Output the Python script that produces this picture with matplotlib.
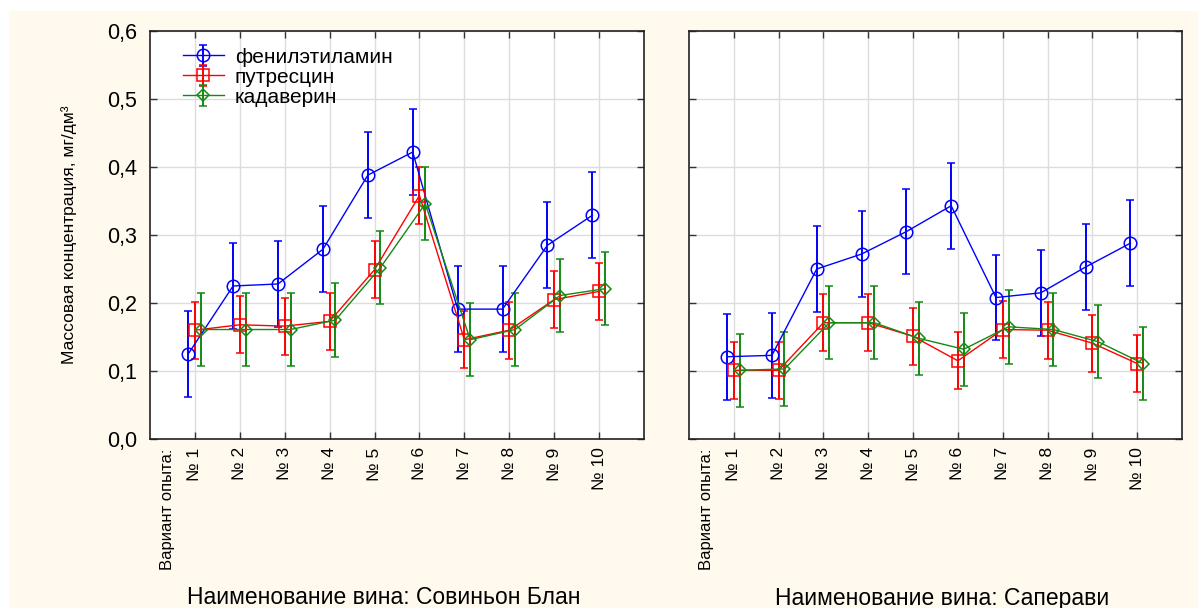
import matplotlib
matplotlib.use("Agg")
import matplotlib.pyplot as plt
from matplotlib.patches import Rectangle
import numpy as np

plt.rcParams['font.family'] = ['Liberation Sans', 'DejaVu Sans']

# данные
categories = ["№ 1", "№ 2", "№ 3", "№ 4", "№ 5", "№ 6", "№ 7", "№ 8", "№ 9", "№ 10"]
series_names = ["фенилэтиламин", "путресцин", "кадаверин"]

# Совиньон Блан
sb_phen = [0.125, 0.225, 0.228, 0.279, 0.388, 0.422, 0.191, 0.191, 0.285, 0.329]
sb_putr = [0.160, 0.168, 0.166, 0.173, 0.249, 0.358, 0.146, 0.160, 0.205, 0.217]
sb_cad = [0.161, 0.161, 0.161, 0.175, 0.252, 0.346, 0.146, 0.161, 0.211, 0.221]

# Саперави
sp_phen = [0.121, 0.123, 0.250, 0.272, 0.305, 0.343, 0.208, 0.215, 0.253, 0.288]
sp_putr = [0.101, 0.101, 0.171, 0.171, 0.151, 0.115, 0.161, 0.160, 0.141, 0.111]
sp_cad = [0.101, 0.103, 0.171, 0.171, 0.148, 0.132, 0.165, 0.161, 0.143, 0.111]

# полуширина доверительных интервалов
err_phen = 0.063
err_putr = 0.042
err_cad = 0.054

wines = ["Наименование вина: Совиньон Блан", "Наименование вина: Саперави"]

colors = ["#0000ff", "#ff0000", "#138a13"]
markers = ["o", "s", "D"]
msizes = [9, 8, 6]
offsets = [-0.15, 0.0, 0.13]

W, H = 1198, 608
fig = plt.figure(figsize=(W / 100, H / 100), dpi=100, facecolor="white")
fig.patches.append(Rectangle((9 / W, 0), 1, 1 - 11 / H, transform=fig.transFigure,
                             facecolor="#fff9ee", edgecolor="none", zorder=-10))

bottom = (H - 439) / H
height = (439 - 31) / H
ax1 = fig.add_axes([150 / W, bottom, (644 - 150) / W, height])
ax2 = fig.add_axes([689 / W, bottom, (1182 - 689) / W, height])

x = np.arange(1, len(categories) + 1)
panels = [(ax1, [sb_phen, sb_putr, sb_cad]), (ax2, [sp_phen, sp_putr, sp_cad])]
errs = [err_phen, err_putr, err_cad]

for ax, data in panels:
    ax.set_facecolor("white")
    for vals, err, c, m, ms, off, name in zip(data, errs, colors, markers, msizes, offsets, series_names):
        ax.errorbar(x + off, vals, yerr=err, color=c, marker=m, markersize=ms,
                    markerfacecolor="none", markeredgecolor=c, markeredgewidth=1.1,
                    linewidth=1.0, elinewidth=1.4, capsize=3, capthick=1.4, label=name)
    ax.set_xlim(0, 11)
    ax.set_ylim(0, 0.6)
    ax.set_xticks(x)
    ax.set_xticklabels(categories, rotation=90, fontsize=12.5, va="top")
    ax.set_yticks(np.arange(0, 0.61, 0.1))
    ax.grid(True, color="#dcdcdc", linewidth=1.0)
    ax.set_axisbelow(True)
    ax.tick_params(direction="in", top=True, right=True, length=5, width=1, color="#333333")
    ax.tick_params(axis="x", pad=6)
    for s in ax.spines.values():
        s.set_color("#222222")
        s.set_linewidth(1.2)
    ax.annotate("Вариант опыта:", xy=(0.38, 0), xycoords=("data", "axes fraction"),
                xytext=(0, -7), textcoords="offset points", rotation=90,
                ha="center", va="top", fontsize=12)

ax1.set_yticklabels([f"{v:.1f}".replace(".", ",") for v in np.arange(0, 0.61, 0.1)], fontsize=15.5)
ax1.tick_params(axis="y", pad=9)
ax2.set_yticklabels([])

ax1.set_ylabel("Массовая концентрация, мг/дм³", fontsize=12.5)
ax1.yaxis.set_label_coords(-0.148, 0.5)

ax1.legend(loc="upper left", bbox_to_anchor=(0.045, 0.985), frameon=False, fontsize=15,
           labelspacing=0.05, handlelength=2.0, handletextpad=0.5, borderpad=0)

fig.text(384 / W, 1 - 598 / H, wines[0], ha="center", va="center", fontsize=16.5)
fig.text(942 / W, 1 - 598 / H, wines[1], ha="center", va="center", fontsize=16.5)

fig.savefig("out.png", dpi=100, facecolor=fig.get_facecolor())
